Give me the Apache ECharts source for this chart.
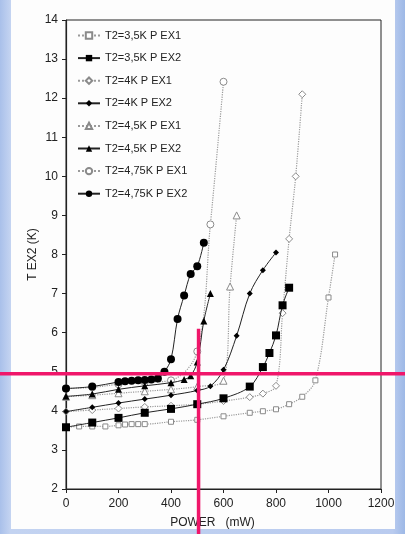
<!DOCTYPE html>
<html>
<head>
<meta charset="utf-8">
<script src="https://cdn.jsdelivr.net/npm/echarts@6/dist/echarts.min.js"></script>
<style>
  html, body { margin: 0; padding: 0; width: 405px; height: 534px; overflow: hidden; }
  body { background: linear-gradient(90deg, #a9c0ea 0%, #c3d3f1 2.5%, #b9cbef 97%, #9db8e6 100%); position: relative; }
  #panel { position: absolute; left: 11px; top: 0; width: 384px; height: 529px; background: #fdfdfd; }
  #chart { position: absolute; left: 0; top: 0; width: 405px; height: 534px; }
</style>
</head>
<body>
<div id="panel"></div>
<div id="chart"></div>
<script>
// ---- data ----
const seriesNames = ['T2=3,5K P EX1', 'T2=3,5K P EX2', 'T2=4K P EX1', 'T2=4K P EX2',
                     'T2=4,5K P EX1', 'T2=4,5K P EX2', 'T2=4,75K P EX1', 'T2=4,75K P EX2'];

const p35ex1 = [0, 50, 100, 150, 200, 225, 250, 275, 300, 400, 500, 600, 700, 750, 800, 850, 900, 950, 1000, 1025];
const t35ex1 = [3.58, 3.6, 3.6, 3.6, 3.63, 3.65, 3.66, 3.66, 3.66, 3.72, 3.77, 3.86, 3.95, 3.99, 4.04, 4.17, 4.36, 4.78, 6.9, 8.0];

const p35ex2 = [0, 100, 200, 300, 400, 500, 600, 700, 750, 775, 800, 825, 850];
const t35ex2 = [3.58, 3.7, 3.82, 3.95, 4.05, 4.17, 4.32, 4.62, 5.12, 5.48, 5.93, 6.7, 7.15];

const p4ex1 = [0, 100, 200, 300, 400, 500, 600, 700, 750, 800, 825, 850, 875, 900];
const t4ex1 = [3.98, 4.02, 4.06, 4.1, 4.13, 4.17, 4.25, 4.35, 4.44, 4.64, 6.5, 8.4, 10.0, 12.1];

const p4ex2 = [0, 100, 200, 300, 400, 500, 550, 600, 650, 700, 750, 800];
const t4ex2 = [3.98, 4.09, 4.2, 4.3, 4.4, 4.52, 4.63, 5.05, 5.92, 7.0, 7.6, 8.05];

const p45ex1 = [0, 100, 200, 300, 400, 500, 600, 625, 650];
const t45ex1 = [4.36, 4.4, 4.45, 4.5, 4.55, 4.62, 4.77, 7.18, 9.0];

const p45ex2 = [0, 100, 200, 300, 400, 450, 475, 500, 525, 550];
const t45ex2 = [4.37, 4.43, 4.55, 4.64, 4.72, 4.8, 4.9, 5.25, 6.3, 7.0];

const p475ex1 = [0, 100, 200, 300, 400, 500, 550, 600];
const t475ex1 = [4.57, 4.6, 4.68, 4.73, 4.78, 5.52, 8.77, 12.42];

const p475ex2 = [0, 100, 200, 225, 250, 275, 300, 325, 350, 375, 400, 425, 450, 475, 500, 525];
const t475ex2 = [4.57, 4.62, 4.74, 4.76, 4.77, 4.78, 4.79, 4.8, 4.83, 5.0, 5.32, 6.35, 6.95, 7.5, 7.7, 8.3];

const xTicks = { min: 0, max: 1200, interval: 200 };
const yTicks = { min: 2, max: 14, interval: 1 };

// annotation cross (pink lines) in data units
const crossY = 4.95;      // horizontal line level (K)
const crossX = 505;       // vertical line position (mW)
const crossTop = 6.1;     // top end of vertical line (K)

// ---- build ----
const pairs = (xs, ys) => xs.map((x, i) => [x, ys[i]]);
const powers = [p35ex1, p35ex2, p4ex1, p4ex2, p45ex1, p45ex2, p475ex1, p475ex2];
const temps  = [t35ex1, t35ex2, t4ex1, t4ex2, t45ex1, t45ex2, t475ex1, t475ex2];
const symbols = ['rect', 'rect', 'diamond', 'diamond', 'triangle', 'triangle', 'circle', 'circle'];
const sizes   = [5, 8, 7, 6, 7, 7, 7, 8];

const series = seriesNames.map((name, i) => {
  const ex1 = i % 2 === 0;
  return {
    name,
    type: 'line',
    data: pairs(powers[i], temps[i]),
    smooth: 0.35,
    symbol: symbols[i],
    symbolSize: sizes[i],
    showAllSymbol: true,
    lineStyle: ex1 ? { type: 'dotted', color: '#9a9a9a', width: 1.2 }
                   : { type: 'solid', color: '#222', width: 1 },
    itemStyle: ex1 ? { color: '#ffffff', borderColor: '#8a8a8a', borderWidth: 1 }
                   : { color: '#000', borderColor: '#000', borderWidth: 0 },
    emphasis: { disabled: true },
    z: ex1 ? 2 : 3
  };
});

const chart = echarts.init(document.getElementById('chart'), null, { renderer: 'canvas' });
const font = '"Liberation Sans", Arial, sans-serif';
chart.setOption({
  animation: false,
  backgroundColor: 'transparent',
  textStyle: { fontFamily: font },
  grid: { left: 66, right: 24, top: 20, bottom: 44, show: true, borderColor: '#222', borderWidth: 1, backgroundColor: 'transparent' },
  legend: {
    orient: 'vertical', left: 77, top: 30, padding: 0,
    itemWidth: 22, itemHeight: 8, itemGap: 11.6,
    textStyle: { fontSize: 11, color: '#222', fontFamily: font },
    data: seriesNames
  },
  xAxis: {
    type: 'value', min: xTicks.min, max: xTicks.max, interval: xTicks.interval,
    name: 'POWER   (mW)', nameLocation: 'middle', nameGap: 28,
    nameTextStyle: { fontSize: 12, color: '#222', padding: [0, 22, 0, 0] },
    axisLine: { show: true, lineStyle: { color: '#222', width: 1.2 } },
    axisTick: { show: true, inside: false, length: 4, lineStyle: { color: '#222' } },
    axisLabel: { fontSize: 12, color: '#222', margin: 9, formatter: v => String(v) },
    splitLine: { show: false }
  },
  yAxis: {
    type: 'value', min: yTicks.min, max: yTicks.max, interval: yTicks.interval,
    name: 'T EX2 (K)', nameLocation: 'middle', nameGap: 27, nameRotate: 90, nameMoveOverlap: false,
    nameTextStyle: { fontSize: 12, color: '#222' },
    axisLine: { show: true, lineStyle: { color: '#222', width: 1.2 } },
    axisTick: { show: true, inside: false, length: 4, lineStyle: { color: '#222' } },
    axisLabel: { fontSize: 12, color: '#222', margin: 8, formatter: v => String(v) },
    splitLine: { show: false }
  },
  series
});

// pink annotation cross, positioned through the axes
const hy = chart.convertToPixel({ gridIndex: 0 }, [0, crossY])[1];
const vTop = chart.convertToPixel({ gridIndex: 0 }, [crossX, crossTop]);
chart.setOption({
  graphic: [
    { type: 'line', z: 100, shape: { x1: 0, y1: hy, x2: 405, y2: hy }, style: { stroke: '#f0166a', lineWidth: 3.5 } },
    { type: 'line', z: 100, shape: { x1: vTop[0], y1: vTop[1], x2: vTop[0], y2: 534 }, style: { stroke: '#f0166a', lineWidth: 3.5 } }
  ]
});
</script>
</body>
</html>
